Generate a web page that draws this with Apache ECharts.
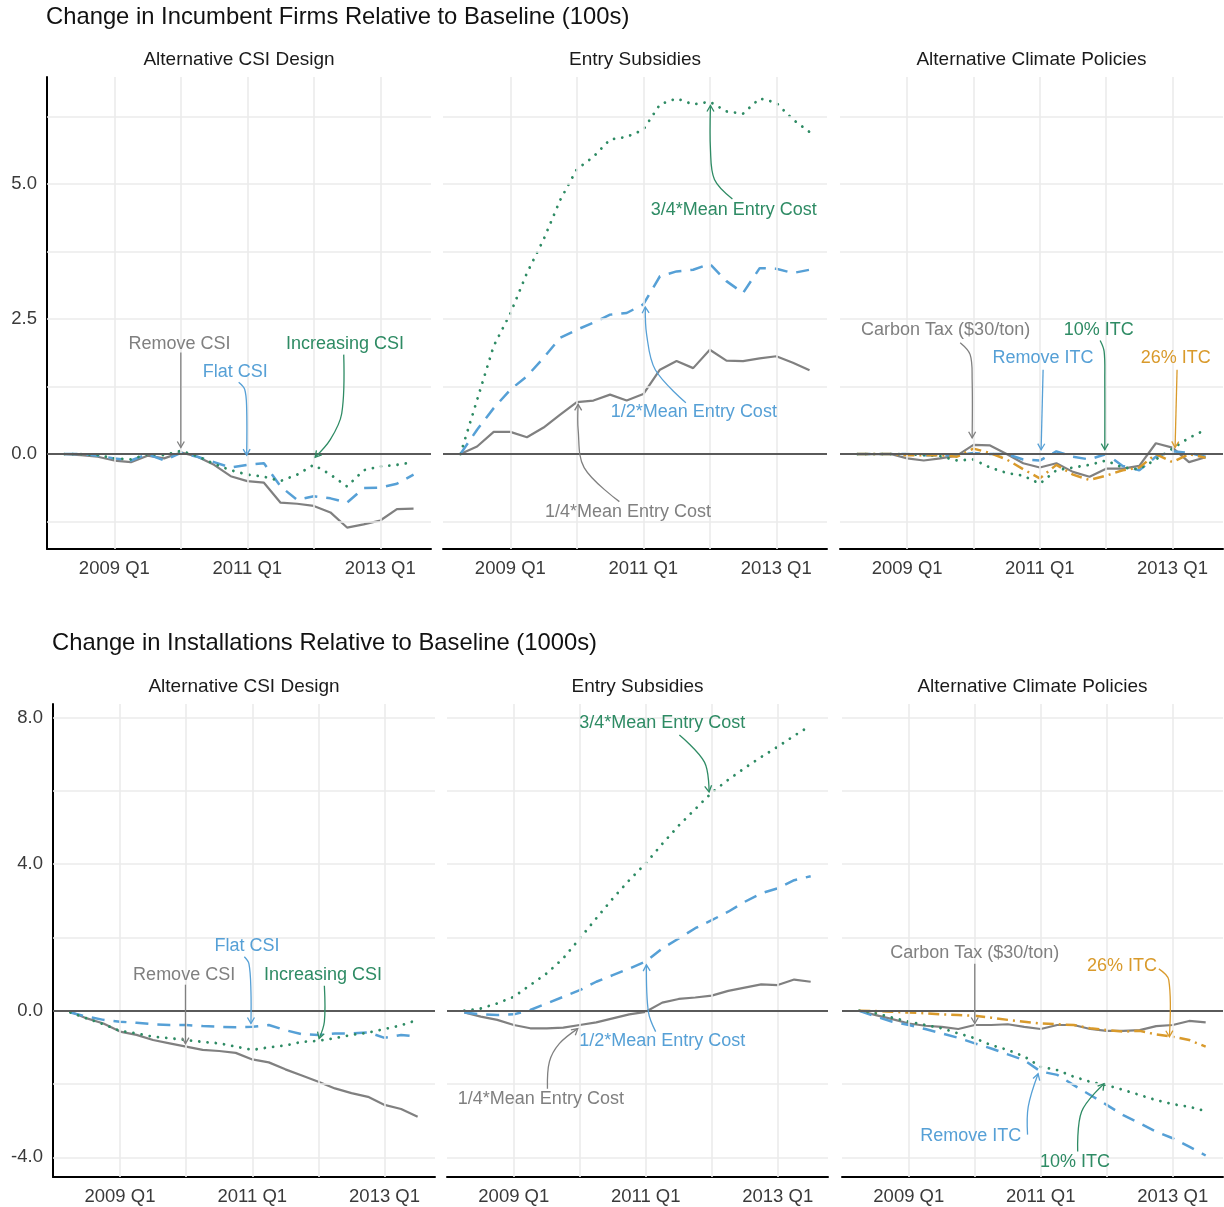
<!DOCTYPE html>
<html>
<head>
<meta charset="utf-8">
<script src="https://cdn.jsdelivr.net/npm/echarts@6/dist/echarts.min.js"></script>
<style>
  html, body { margin: 0; padding: 0; background: #ffffff; }
  #chart { width: 1224px; height: 1207px; }
</style>
</head>
<body>
<div id="chart"></div>
<script>
// ---- Quarters shared by every panel ----
const quarters = ['2008 Q2','2008 Q3','2008 Q4','2009 Q1','2009 Q2','2009 Q3','2009 Q4','2010 Q1','2010 Q2','2010 Q3','2010 Q4',
                  '2011 Q1','2011 Q2','2011 Q3','2011 Q4','2012 Q1','2012 Q2','2012 Q3','2012 Q4','2013 Q1','2013 Q2','2013 Q3'];

// ---- Tick values ----
const yearTicks = [2009, 2011, 2013];
const yearMinorTicks = [2010, 2012];
const incMajorTicks = [0, 2.5, 5.0];
const incMinorTicks = [-1.25, 1.25, 3.75, 6.25];
const instMajorTicks = [-4, 0, 4, 8];
const instMinorTicks = [-2, 2, 6];

// ---- Change in incumbent firms (100s) ----
const incCsiRemove     = [0, -0.02, -0.05, -0.12, -0.15, -0.03, -0.08, 0.03, -0.05, -0.2, -0.41, -0.5, -0.53, -0.9, -0.92, -0.96, -1.08, -1.36, -1.3, -1.23, -1.02, -1.01];
const incCsiFlat       = [0, 0, -0.03, -0.08, -0.12, 0, -0.12, 0.02, -0.05, -0.15, -0.25, -0.2, -0.17, -0.6, -0.85, -0.78, -0.82, -0.9, -0.63, -0.62, -0.55, -0.38];
const incCsiIncreasing = [0, 0, -0.02, -0.08, -0.1, 0, -0.02, 0.06, -0.04, -0.18, -0.3, -0.38, -0.42, -0.5, -0.38, -0.2, -0.38, -0.6, -0.3, -0.23, -0.2, -0.15];

const incEntryQuarter      = [0, 0.14, 0.41, 0.41, 0.31, 0.49, 0.73, 0.96, 0.99, 1.1, 0.99, 1.11, 1.56, 1.72, 1.59, 1.93, 1.73, 1.72, 1.77, 1.81, 1.69, 1.55];
const incEntryHalf         = [0, 0.45, 0.85, 1.19, 1.44, 1.78, 2.15, 2.3, 2.43, 2.58, 2.61, 2.77, 3.29, 3.38, 3.41, 3.52, 3.2, 2.98, 3.44, 3.43, 3.35, 3.41];
const incEntryThreeQuarter = [0, 1.0, 2.0, 2.6, 3.35, 3.97, 4.7, 5.27, 5.5, 5.82, 5.87, 6.0, 6.47, 6.58, 6.47, 6.52, 6.34, 6.3, 6.58, 6.5, 6.19, 5.96];

const incClimateCarbon    = [0, 0, 0, -0.08, -0.12, -0.08, -0.03, 0.17, 0.16, 0, -0.17, -0.25, -0.17, -0.33, -0.42, -0.27, -0.27, -0.22, 0.2, 0.12, -0.15, -0.06];
const incClimateRemoveItc = [0, 0, 0, 0, -0.02, -0.02, -0.02, 0.02, 0, 0, -0.1, -0.12, 0.05, -0.05, -0.1, 0, -0.22, -0.3, -0.05, 0.05, 0.02, -0.05];
const incClimateItc10     = [0, 0, 0, 0, -0.02, -0.04, -0.12, -0.1, -0.25, -0.35, -0.4, -0.55, -0.3, -0.25, -0.2, -0.12, -0.25, -0.28, -0.1, 0.1, 0.3, 0.45];
const incClimateItc26     = [0, 0, 0, -0.02, -0.02, -0.02, -0.05, 0.1, 0.02, -0.1, -0.28, -0.45, -0.2, -0.38, -0.48, -0.4, -0.3, -0.25, 0, -0.15, 0, -0.07];

// ---- Change in installations (1000s) ----
const instCsiRemove     = [-0.03, -0.21, -0.35, -0.57, -0.66, -0.8, -0.89, -0.98, -1.07, -1.1, -1.15, -1.33, -1.41, -1.6, -1.77, -1.94, -2.12, -2.25, -2.35, -2.57, -2.68, -2.89];
const instCsiFlat       = [-0.05, -0.16, -0.25, -0.3, -0.33, -0.37, -0.39, -0.39, -0.42, -0.44, -0.45, -0.44, -0.39, -0.53, -0.64, -0.66, -0.62, -0.62, -0.59, -0.74, -0.66, -0.71];
const instCsiIncreasing = [-0.05, -0.21, -0.37, -0.55, -0.62, -0.71, -0.75, -0.8, -0.85, -0.89, -0.98, -1.07, -1.0, -0.95, -0.85, -0.82, -0.75, -0.66, -0.6, -0.5, -0.4, -0.25];

const instEntryQuarter      = [-0.05, -0.16, -0.25, -0.39, -0.48, -0.48, -0.46, -0.39, -0.32, -0.21, -0.1, -0.03, 0.22, 0.32, 0.36, 0.41, 0.54, 0.63, 0.72, 0.7, 0.85, 0.79];
const instEntryHalf         = [-0.05, -0.1, -0.12, -0.1, 0.02, 0.2, 0.38, 0.56, 0.79, 0.97, 1.15, 1.34, 1.7, 1.97, 2.25, 2.47, 2.7, 2.97, 3.2, 3.34, 3.56, 3.67];
const instEntryThreeQuarter = [0, 0.06, 0.2, 0.38, 0.7, 1.02, 1.43, 1.97, 2.52, 3.06, 3.56, 4.02, 4.55, 5.05, 5.5, 5.95, 6.3, 6.62, 6.92, 7.2, 7.5, 7.78];

const instClimateCarbon    = [0, -0.12, -0.23, -0.35, -0.41, -0.44, -0.5, -0.39, -0.39, -0.37, -0.44, -0.5, -0.39, -0.39, -0.5, -0.55, -0.55, -0.53, -0.42, -0.39, -0.28, -0.32];
const instClimateRemoveItc = [0, -0.16, -0.3, -0.39, -0.5, -0.62, -0.74, -0.89, -1.03, -1.19, -1.35, -1.66, -1.75, -2.03, -2.3, -2.57, -2.85, -3.07, -3.3, -3.48, -3.71, -3.95];
const instClimateItc10     = [0, -0.07, -0.19, -0.3, -0.39, -0.48, -0.62, -0.75, -0.94, -1.07, -1.25, -1.53, -1.62, -1.8, -1.94, -2.03, -2.16, -2.3, -2.44, -2.55, -2.62, -2.74];
const instClimateItc26     = [0, -0.01, -0.03, -0.05, -0.07, -0.1, -0.12, -0.14, -0.19, -0.25, -0.3, -0.35, -0.37, -0.39, -0.48, -0.53, -0.57, -0.55, -0.65, -0.71, -0.8, -0.98];

// ---- Text ----
const rowTitles = ['Change in Incumbent Firms Relative to Baseline (100s)', 'Change in Installations Relative to Baseline (1000s)'];
const panelTitles = ['Alternative CSI Design', 'Entry Subsidies', 'Alternative Climate Policies'];

// ---- Styling ----
const FONT = '"Liberation Sans", Arial, Helvetica, sans-serif';
const COLORS = { gray: '#808080', blue: '#56a0d6', green: '#2e8b64', orange: '#d99a2b' };
const LINE_STYLES = {
  gray:   { color: COLORS.gray,   width: 2.2, type: 'solid' },
  blue:   { color: COLORS.blue,   width: 2.5, type: [13, 9], cap: 'butt' },
  green:  { color: COLORS.green,  width: 2.8, type: [0.01, 8.3], cap: 'round' },
  orange: { color: COLORS.orange, width: 2.5, type: [11, 5, 2, 5], cap: 'butt' }
};

// panel grid rectangles (row, col)
const gridRects = [
  [{ left: 47, top: 77, width: 384, height: 472 }, { left: 443, top: 77, width: 384, height: 472 }, { left: 840, top: 77, width: 383, height: 472 }],
  [{ left: 53, top: 704, width: 382, height: 473 }, { left: 447, top: 704, width: 381, height: 473 }, { left: 842, top: 704, width: 381, height: 473 }]
];
const rowTitleTops = [5, 631];

function quarterToYear(q) {
  const [y, qq] = q.split(' Q');
  return Number(y) + (Number(qq) - 1) / 4;
}
const xs = quarters.map(quarterToYear);
const xPad = (xs[xs.length - 1] - xs[0]) * 0.05;
const xMin = xs[0] - xPad, xMax = xs[xs.length - 1] + xPad;

function yRange(values) {
  const lo = Math.min(...values), hi = Math.max(...values);
  const pad = (hi - lo) * 0.05;
  return [lo - pad, hi + pad];
}

const rows = [
  {
    major: incMajorTicks, minor: incMinorTicks,
    panels: [
      [['gray', incCsiRemove], ['blue', incCsiFlat], ['green', incCsiIncreasing]],
      [['gray', incEntryQuarter], ['blue', incEntryHalf], ['green', incEntryThreeQuarter]],
      [['gray', incClimateCarbon], ['blue', incClimateRemoveItc], ['green', incClimateItc10], ['orange', incClimateItc26]]
    ]
  },
  {
    major: instMajorTicks, minor: instMinorTicks,
    panels: [
      [['gray', instCsiRemove], ['blue', instCsiFlat], ['green', instCsiIncreasing]],
      [['gray', instEntryQuarter], ['blue', instEntryHalf], ['green', instEntryThreeQuarter]],
      [['gray', instClimateCarbon], ['blue', instClimateRemoveItc], ['green', instClimateItc10], ['orange', instClimateItc26]]
    ]
  }
];
rows.forEach(r => {
  const all = [];
  r.panels.forEach(p => p.forEach(s => all.push(...s[1])));
  [r.yMin, r.yMax] = yRange(all);
});

// ---- Annotations: label centre and arrow path in data units ----
const annotations = [
  // incumbents, CSI design
  { panel: 0, color: 'gray',  text: 'Remove CSI',     at: [2009.98, 2.04], path: [[2010.0, 1.88], [2010.0, 0.12]] },
  { panel: 0, color: 'blue',  text: 'Flat CSI',       at: [2010.82, 1.51], path: [[2010.87, 1.33], [2010.96, 1.2], [2010.99, 0.85], [2010.99, -0.02]] },
  { panel: 0, color: 'green', text: 'Increasing CSI', at: [2012.47, 2.03], path: [[2012.45, 1.84], [2012.42, 0.75], [2012.25, 0.27], [2012.02, -0.06]] },
  // incumbents, entry subsidies
  { panel: 1, color: 'green', text: '3/4*Mean Entry Cost', at: [2012.36, 4.52], path: [[2012.34, 4.72], [2012.07, 5.08], [2012.01, 5.63], [2012.01, 6.45]] },
  { panel: 1, color: 'blue',  text: '1/2*Mean Entry Cost', at: [2011.76, 0.77], path: [[2011.64, 0.95], [2011.18, 1.56], [2011.05, 2.21], [2011.03, 2.72]] },
  { panel: 1, color: 'gray',  text: '1/4*Mean Entry Cost', at: [2010.77, -1.07], path: [[2010.64, -0.88], [2010.11, -0.25], [2010.02, 0.45], [2010.02, 0.92]] },
  // incumbents, climate policies
  { panel: 2, color: 'gray',   text: 'Carbon Tax ($30/ton)', at: [2009.58, 2.3], path: [[2009.8, 2.06], [2009.95, 1.84], [2009.98, 1.38], [2009.98, 0.3]] },
  { panel: 2, color: 'green',  text: '10% ITC',    at: [2011.89, 2.3],  path: [[2011.91, 2.1], [2011.97, 1.9], [2011.98, 1.38], [2011.98, 0.08]] },
  { panel: 2, color: 'blue',   text: 'Remove ITC', at: [2011.05, 1.77], path: [[2011.05, 1.56], [2011.02, 0.08]] },
  { panel: 2, color: 'orange', text: '26% ITC',    at: [2013.05, 1.77], path: [[2013.07, 1.56], [2013.04, 0.12]] },
  // installations, CSI design
  { panel: 3, color: 'blue',  text: 'Flat CSI',       at: [2010.92, 1.77], path: [[2010.88, 1.47], [2010.95, 1.28], [2010.98, 0.52], [2010.98, -0.35]] },
  { panel: 3, color: 'gray',  text: 'Remove CSI',     at: [2009.97, 0.98], path: [[2009.99, 0.71], [2009.99, -0.9]] },
  { panel: 3, color: 'green', text: 'Increasing CSI', at: [2012.07, 0.98], path: [[2012.09, 0.68], [2012.09, -0.3], [2012.01, -0.76]] },
  // installations, entry subsidies
  { panel: 4, color: 'green', text: '3/4*Mean Entry Cost', at: [2011.25, 7.85], path: [[2011.51, 7.52], [2011.89, 6.78], [2011.96, 5.97]] },
  { panel: 4, color: 'blue',  text: '1/2*Mean Entry Cost', at: [2011.25, -0.84], path: [[2011.15, -0.57], [2011.04, -0.03], [2011.01, 1.25]] },
  { panel: 4, color: 'gray',  text: '1/4*Mean Entry Cost', at: [2009.41, -2.4], path: [[2009.51, -2.13], [2009.54, -1.39], [2009.69, -0.9], [2009.97, -0.49]] },
  // installations, climate policies
  { panel: 5, color: 'gray',   text: 'Carbon Tax ($30/ton)', at: [2010.0, 1.58], path: [[2010.0, 1.28], [2010.0, -0.35]] },
  { panel: 5, color: 'orange', text: '26% ITC',    at: [2012.23, 1.23], path: [[2012.79, 1.14], [2012.94, 0.84], [2012.95, -0.71]] },
  { panel: 5, color: 'blue',   text: 'Remove ITC', at: [2009.94, -3.43], path: [[2010.8, -3.38], [2010.81, -2.62], [2010.96, -1.72]] },
  { panel: 5, color: 'green',  text: '10% ITC',    at: [2011.52, -4.14], path: [[2011.56, -3.84], [2011.62, -2.75], [2011.96, -1.99]] }
];

// ---- Build option ----
const option = {
  animation: false,
  backgroundColor: '#ffffff',
  title: [],
  grid: [], xAxis: [], yAxis: [], series: []
};

rowTitles.forEach((t, r) => {
  option.title.push({
    text: t, left: gridRects[r][0].left - 1, top: rowTitleTops[r], padding: 0,
    textStyle: { fontSize: 23.8, fontWeight: 'normal', color: '#111111', fontFamily: FONT }
  });
});

const gridLine = { color: '#ebebeb', width: 1.6, type: 'solid' };

rows.forEach((row, r) => {
  row.panels.forEach((panelSeries, c) => {
    const gi = option.grid.length;
    const rect = gridRects[r][c];
    option.grid.push(Object.assign({ containLabel: false }, rect));

    option.title.push({
      text: panelTitles[c], left: rect.left + rect.width / 2, top: rect.top - 27, textAlign: 'center', padding: 0,
      textStyle: { fontSize: 19, fontWeight: 'normal', color: '#1a1a1a', fontFamily: FONT }
    });

    option.xAxis.push({
      type: 'value', gridIndex: gi, min: xMin, max: xMax,
      axisLine: { show: true, onZero: false, lineStyle: { color: '#000000', width: 2 } },
      axisTick: { show: false },
      splitLine: { show: false },
      axisLabel: {
        customValues: yearTicks, margin: 10,
        formatter: v => Math.round(v) + ' Q1',
        fontSize: 18.5, color: '#3a3a3a', fontFamily: FONT
      }
    });
    option.yAxis.push({
      type: 'value', gridIndex: gi, min: row.yMin, max: row.yMax,
      axisLine: { show: c === 0, onZero: false, lineStyle: { color: '#000000', width: 2 } },
      axisTick: { show: false },
      splitLine: { show: false },
      axisLabel: {
        show: c === 0, customValues: row.major, margin: 10,
        formatter: v => v.toFixed(1),
        fontSize: 18.5, color: '#3a3a3a', fontFamily: FONT
      }
    });

    // background grid
    const gridData = [];
    yearTicks.concat(yearMinorTicks).forEach(v => gridData.push({ xAxis: v }));
    row.major.filter(v => v !== 0).concat(row.minor).forEach(v => gridData.push({ yAxis: v }));
    option.series.push({
      type: 'line', xAxisIndex: gi, yAxisIndex: gi, data: [], z: 1, silent: true,
      markLine: { silent: true, symbol: ['none', 'none'], label: { show: false }, lineStyle: gridLine,
                  emphasis: { disabled: true }, animation: false, data: gridData }
    });
    // zero reference line
    option.series.push({
      type: 'line', xAxisIndex: gi, yAxisIndex: gi, data: [], z: 2, silent: true,
      markLine: { silent: true, symbol: ['none', 'none'], label: { show: false },
                  lineStyle: { color: '#5a5a5a', width: 2, type: 'solid' },
                  emphasis: { disabled: true }, animation: false, data: [{ yAxis: 0 }] }
    });

    panelSeries.forEach(([styleKey, values]) => {
      option.series.push({
        type: 'line', xAxisIndex: gi, yAxisIndex: gi, z: 3,
        data: values.map((v, i) => [xs[i], v]),
        showSymbol: false, symbol: 'none', silent: true,
        lineStyle: LINE_STYLES[styleKey]
      });
    });
  });
});

const chart = echarts.init(document.getElementById('chart'), null, { renderer: 'canvas' });
chart.setOption(option);

// ---- Annotation labels and arrows ----
const graphics = [];
annotations.forEach(a => {
  const toPx = p => chart.convertToPixel({ gridIndex: a.panel }, p);
  const col = COLORS[a.color];
  const c = toPx(a.at);
  graphics.push({
    type: 'text', x: c[0], y: c[1], silent: true, z: 10,
    style: { text: a.text, fill: col, fontSize: 18, fontFamily: FONT, align: 'center', verticalAlign: 'middle' }
  });
  const pts = a.path.map(toPx);
  graphics.push({
    type: 'polyline', silent: true, z: 10,
    shape: { points: pts, smooth: pts.length > 2 ? 0.35 : 0 },
    style: { stroke: col, lineWidth: 1.3, fill: null }
  });
  const P = pts[pts.length - 1], Q = pts[pts.length - 2];
  const dx = P[0] - Q[0], dy = P[1] - Q[1];
  const len = Math.hypot(dx, dy) || 1;
  const ux = dx / len, uy = dy / len;
  const L = 7, ang = Math.PI / 6;
  const rot = (x, y, t) => [x * Math.cos(t) - y * Math.sin(t), x * Math.sin(t) + y * Math.cos(t)];
  const r1 = rot(-ux, -uy, ang), r2 = rot(-ux, -uy, -ang);
  graphics.push({
    type: 'polyline', silent: true, z: 10,
    shape: { points: [[P[0] + r1[0] * L, P[1] + r1[1] * L], P, [P[0] + r2[0] * L, P[1] + r2[1] * L]] },
    style: { stroke: col, lineWidth: 1.3, fill: null }
  });
});
chart.setOption({ graphic: graphics });
</script>
</body>
</html>
